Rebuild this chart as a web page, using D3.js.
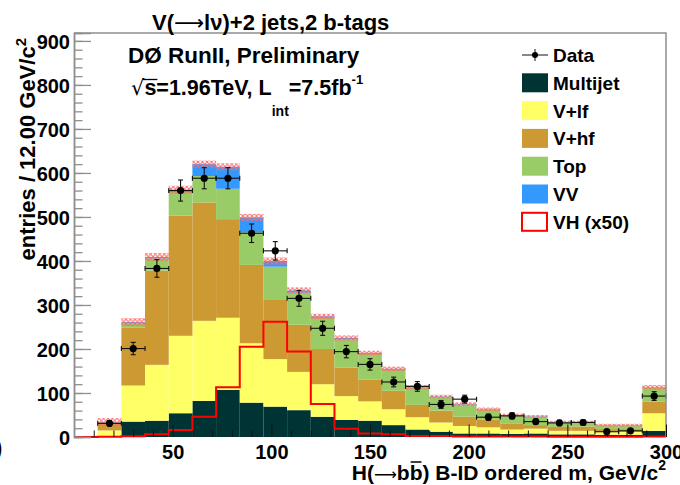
<!DOCTYPE html>
<html>
<head>
<meta charset="utf-8">
<script src="https://cdn.jsdelivr.net/npm/d3@7"></script>
<style>
  html, body { margin: 0; padding: 0; background: #fff; }
  svg { display: block; }
  text { font-family: "Liberation Sans", Arial, Helvetica, sans-serif; font-weight: bold; fill: #000; }
  .sym { font-family: "DejaVu Sans", sans-serif; font-weight: normal; }
</style>
</head>
<body>
<svg id="chart" width="680" height="485"></svg>
<script>
// Bin low edges (12 GeV wide bins over 0..300)
const binLow = [0, 12, 24, 36, 48, 60, 72, 84, 96, 108, 120, 132, 144, 156, 168, 180, 192, 204, 216, 228, 240, 252, 264, 276, 288];
const binWidth = 12;

// Background components (events per bin), stacked bottom to top
const multijet = [0, 1, 35, 37, 54, 82, 107, 78, 69, 61, 46, 39, 37, 27, 17, 12, 8, 8, 7, 8, 6, 6, 5, 5, 14];
const vlf      = [0, 14, 82, 127, 176, 182, 164, 135, 108, 87, 74, 54, 44, 36, 28, 21, 17, 14, 10, 11, 8, 8, 7, 7, 40];
const vhf      = [0, 17, 131, 214, 273, 269, 224, 178, 136, 107, 80, 65, 49, 42, 28, 27, 21, 17, 14, 8, 9, 10, 6, 6, 26];
const topq     = [0, 1, 10, 28, 54, 60, 69, 74, 74, 73, 71, 64, 59, 48, 39, 31, 28, 23, 18, 19, 10, 9, 8, 8, 32];
const diboson  = [0, 1, 3, 3, 5, 27, 50, 34, 13, 5, 3, 3, 2, 2, 1, 1, 1, 1, 1, 1, 1, 1, 1, 1, 1];

// Systematic band half-width on the total background
const bkgUnc   = [0, 9, 9, 9, 9, 8, 8, 8, 8, 7, 6, 6, 5, 5, 5, 4, 4, 4, 3, 3, 3, 3, 3, 3, 5];

// Observed data and statistical errors
const dataVal  = [null, 31, 201, 383, 560, 588, 588, 463, 423, 315, 247, 194, 165, 125, 115, 74, 86, 45, 48, 35, 32, 33, 12, 14, 93];
const dataErr  = [0, 6, 14, 20, 24, 24, 24, 21, 21, 18, 16, 14, 13, 11, 11, 9, 9, 7, 7, 6, 6, 6, 3.5, 4, 10];

// VH signal scaled by 50
const signalX50 = [0, 0.5, 1.5, 6, 16, 46, 113, 205, 262, 194, 75, 19, 8, 6, 2, 2, 1, 1, 1, 1, 0.5, 0.5, 0.5, 0.5, 1];

// Axis ticks
const xMajorTicks = [50, 100, 150, 200, 250, 300];
const yMajorTicks = [0, 100, 200, 300, 400, 500, 600, 700, 800, 900];

const components = [
  { key: "Multijet", values: multijet, color: "#003333" },
  { key: "V+lf",     values: vlf,      color: "#ffff66" },
  { key: "V+hf",     values: vhf,      color: "#cc9933" },
  { key: "Top",      values: topq,     color: "#99cc66" },
  { key: "VV",       values: diboson,  color: "#3399ff" }
];

const svg = d3.select("#chart");
const x = d3.scaleLinear().domain([0, 300]).range([74, 666]);
const y = d3.scaleLinear().domain([0, 918]).range([437, 33]);

// hatch pattern for the background uncertainty
const defs = svg.append("defs");
const pat = defs.append("pattern").attr("id", "hatch")
  .attr("patternUnits", "userSpaceOnUse").attr("width", 4.5).attr("height", 4.5);
pat.append("path").attr("d", "M0,0L4.5,4.5M0,4.5L4.5,0")
  .attr("stroke", "#ff6a6a").attr("stroke-width", 1).attr("fill", "none");

// stacked histogram
const rows = binLow.map((lo, i) => {
  const r = { lo };
  components.forEach(c => r[c.key] = c.values[i]);
  return r;
});
const stack = d3.stack().keys(components.map(c => c.key))(rows);
const gStack = svg.append("g");
stack.forEach((layer, li) => {
  gStack.selectAll(null).data(layer).enter().append("rect")
    .attr("x", d => x(d.data.lo))
    .attr("width", d => x(d.data.lo + binWidth) - x(d.data.lo))
    .attr("y", d => y(d[1]))
    .attr("height", d => Math.max(0, y(d[0]) - y(d[1])))
    .attr("fill", components[li].color);
});

// uncertainty band
const totals = binLow.map((lo, i) => components.reduce((s, c) => s + c.values[i], 0));
const band = binLow.map((lo, i) => ({ lo, lower: totals[i] - bkgUnc[i], upper: totals[i] + bkgUnc[i], total: totals[i] }))
  .filter(d => d.total > 0);
svg.append("g").selectAll("rect").data(band).enter().append("rect")
  .attr("x", d => x(d.lo))
  .attr("width", d => x(d.lo + binWidth) - x(d.lo))
  .attr("y", d => y(d.upper))
  .attr("height", d => y(d.lower) - y(d.upper))
  .attr("fill", "url(#hatch)");

// signal step line
const sigPts = binLow.map((lo, i) => [lo, signalX50[i]]);
sigPts.push([300, signalX50[signalX50.length - 1]]);
svg.append("path")
  .attr("d", d3.line().x(d => x(d[0])).y(d => y(d[1])).curve(d3.curveStepAfter)(sigPts))
  .attr("fill", "none").attr("stroke", "#ff0000").attr("stroke-width", 2);

// data points with errors
const gData = svg.append("g").attr("stroke", "#111").attr("stroke-width", 1.1);
binLow.forEach((lo, i) => {
  const v = dataVal[i];
  if (v == null) return;
  const cx = x(lo + binWidth / 2), cy = y(v);
  const xl = x(lo), xr = x(lo + binWidth);
  const yt = y(v + dataErr[i]), yb = y(v - dataErr[i]);
  gData.append("line").attr("x1", xl).attr("x2", xr).attr("y1", cy).attr("y2", cy);
  gData.append("line").attr("x1", xl).attr("x2", xl).attr("y1", cy - 2.5).attr("y2", cy + 2.5);
  gData.append("line").attr("x1", xr).attr("x2", xr).attr("y1", cy - 2.5).attr("y2", cy + 2.5);
  gData.append("line").attr("x1", cx).attr("x2", cx).attr("y1", yt).attr("y2", yb);
  gData.append("line").attr("x1", cx - 2.5).attr("x2", cx + 2.5).attr("y1", yt).attr("y2", yt);
  gData.append("line").attr("x1", cx - 2.5).attr("x2", cx + 2.5).attr("y1", yb).attr("y2", yb);
  gData.append("circle").attr("cx", cx).attr("cy", cy).attr("r", 3.6).attr("fill", "#000").attr("stroke", "none");
});

// frame
svg.append("path").attr("d", `M${x(0)},${y(918)}H${x(300)}V${y(0)}`)
  .attr("fill", "none").attr("stroke", "#8f8f8f").attr("stroke-width", 1.5);

// y axis
const yMinor = d3.range(0, 918, 20);
const yAxisMinor = svg.append("g").attr("transform", `translate(${x(0)},0)`)
  .call(d3.axisLeft(y).tickValues(yMinor).tickSize(-8.5).tickFormat(""));
const yAxis = svg.append("g").attr("transform", `translate(${x(0)},0)`)
  .call(d3.axisLeft(y).tickValues(yMajorTicks).tickSize(-17).tickPadding(4).tickFormat(d3.format("d")));
[yAxisMinor, yAxis].forEach(g => {
  g.select(".domain").attr("stroke", "#8f8f8f").attr("stroke-width", 1.5);
  g.selectAll(".tick line").attr("stroke", "#8f8f8f").attr("stroke-width", 1.3);
});
yAxis.selectAll(".tick text").attr("font-size", 20).attr("font-family", null).attr("dy", "0.36em");

// x axis
const xMinor = d3.range(10, 300, 10).filter(v => v % 50 !== 0);
const xAxisMinor = svg.append("g").attr("transform", `translate(0,${y(0)})`)
  .call(d3.axisBottom(x).tickValues(xMinor).tickSize(-6.5).tickFormat(""));
const xAxis = svg.append("g").attr("transform", `translate(0,${y(0)})`)
  .call(d3.axisBottom(x).tickValues(xMajorTicks).tickSize(-12.5).tickPadding(8).tickFormat(d3.format("d")));
[xAxisMinor, xAxis].forEach(g => {
  g.select(".domain").remove();
  g.selectAll(".tick line").attr("stroke", "#111").attr("stroke-width", 1);
});
xAxis.selectAll(".tick text").attr("font-size", 20).attr("font-family", null);

// axis titles
const yTitle = svg.append("text")
  .attr("transform", "translate(35,38) rotate(-90)")
  .attr("text-anchor", "end").attr("font-size", 22);
yTitle.append("tspan").text("entries / 12.00 GeV/c");
yTitle.append("tspan").attr("font-size", 15).attr("dy", -9).text("2");

const xTitle = svg.append("text").attr("x", 666).attr("y", 480)
  .attr("text-anchor", "end").attr("font-size", 21);
xTitle.append("tspan").text("H(");
xTitle.append("tspan").attr("class", "sym").attr("font-size", 16).text("\u27f6");
xTitle.append("tspan").text("bb) B-ID ordered m, GeV/c");
xTitle.append("tspan").attr("font-size", 14).attr("dy", -10).text("2");
{
  const n = xTitle.node();
  const s = n.getStartPositionOfChar(4), e = n.getEndPositionOfChar(4);
  svg.append("line").attr("x1", s.x + 1).attr("x2", e.x - 1).attr("y1", 462).attr("y2", 462)
    .attr("stroke", "#000").attr("stroke-width", 1.5);
}

// title and labels
const title = svg.append("text").attr("x", 152).attr("y", 30).attr("font-size", 22);
title.append("tspan").text("V(");
title.append("tspan").attr("class", "sym").attr("font-size", 21).text("\u27f6");
title.append("tspan").text("l\u03bd)+2 jets,2 b-tags");

svg.append("text").attr("x", 128).attr("y", 63).attr("font-size", 22.5)
  .text("D\u00d8 RunII, Preliminary");

const lumi = svg.append("text").attr("x", 131).attr("y", 95).attr("font-size", 21.5);
lumi.append("tspan").attr("class", "sym").attr("font-size", 21).text("\u221a");
lumi.append("tspan").text("s=1.96TeV, L");
lumi.append("tspan").attr("font-size", 14).attr("dy", 21).text("int");
lumi.append("tspan").attr("dy", -21).text("=7.5fb");
lumi.append("tspan").attr("font-size", 13).attr("dy", -11).text("-1");
{
  const n = lumi.node();
  const s = n.getEndPositionOfChar(0), e = n.getEndPositionOfChar(1);
  svg.append("line").attr("x1", s.x - 1.5).attr("x2", e.x + 1).attr("y1", 79.5).attr("y2", 79.5)
    .attr("stroke", "#000").attr("stroke-width", 1.3);
}

// stray glyph at the left border
svg.append("text").attr("x", -5).attr("y", 455).attr("font-size", 22).text(")");

// legend
const legendRows = [
  { label: "Data", kind: "data" },
  ...components.map(c => ({ label: c.key, kind: "fill", color: c.color })),
  { label: "VH (x50)", kind: "line", color: "#ff0000" }
];
const lg = svg.append("g");
legendRows.forEach((r, i) => {
  const cy = 55 + i * 27.8;
  if (r.kind === "data") {
    lg.append("line").attr("x1", 522).attr("x2", 548).attr("y1", cy).attr("y2", cy).attr("stroke", "#111");
    lg.append("line").attr("x1", 535).attr("x2", 535).attr("y1", cy - 6).attr("y2", cy + 6).attr("stroke", "#111");
    lg.append("circle").attr("cx", 535).attr("cy", cy).attr("r", 3).attr("fill", "#000");
  } else if (r.kind === "fill") {
    lg.append("rect").attr("x", 522).attr("y", cy - 9.5).attr("width", 26).attr("height", 19).attr("fill", r.color);
  } else {
    lg.append("rect").attr("x", 522).attr("y", cy - 9).attr("width", 25).attr("height", 18)
      .attr("fill", "#fff").attr("stroke", r.color).attr("stroke-width", 2);
  }
  lg.append("text").attr("x", 553).attr("y", cy + 7).attr("font-size", 19).text(r.label);
});
</script>
</body>
</html>
